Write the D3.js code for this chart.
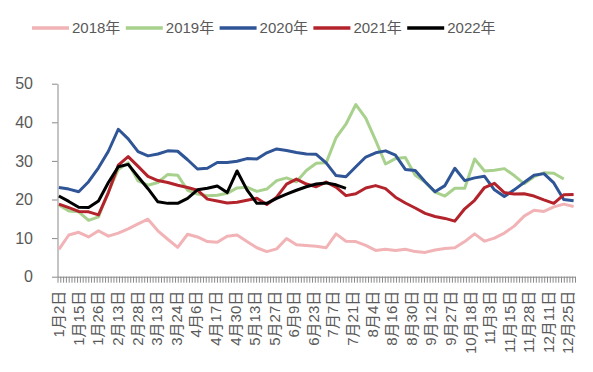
<!DOCTYPE html>
<html><head><meta charset="utf-8">
<script src="https://cdn.jsdelivr.net/npm/d3@7"></script>
<style>
body{margin:0;background:#fff}
svg{display:block}
text{font-family:"Liberation Sans","Noto Sans CJK SC",sans-serif;fill:#595959}
</style>
</head><body>
<svg id="c" width="593" height="372"></svg>
<script>
const seriesNames = ["2018年","2019年","2020年","2021年","2022年"];
const seriesColors = ["#F2B3B6","#A9D18E","#2F5597","#B3232B","#000000"];
const xTickLabels = ["1月2日","1月15日","1月26日","2月13日","2月28日","3月13日","3月24日","4月6日","4月17日","4月30日","5月13日","5月27日","6月9日","6月23日","7月7日","7月21日","8月4日","8月16日","8月30日","9月12日","9月27日","10月18日","11月3日","11月15日","11月28日","12月11日","12月25日"];
const yTicks = [0,10,20,30,40,50];
const categoryCount = 185;   // trading-day categories on the x axis
const labelEvery = 7;        // one label every 7 categories
const weekCount = 53;        // weekly observations across the year

const s2018 = [7.1,10.8,11.5,10.3,11.9,10.5,11.3,12.4,13.7,14.9,
               11.9,9.7,7.6,11.0,10.3,9.1,8.9,10.5,10.8,9.1,
               7.5,6.5,7.2,9.9,8.3,8.1,7.9,7.5,11.1,9.2,
               9.1,8.1,6.8,7.1,6.8,7.1,6.5,6.3,6.9,7.3,
               7.5,9.1,11.1,9.2,10.0,11.3,13.1,15.7,17.2,16.9,
               18.1,18.8,18.2];
const s2019 = [18.6,17.0,16.8,14.6,15.5,22.0,27.8,29.5,24.8,23.7,
               24.4,26.5,26.3,22.4,21.4,21.0,21.1,21.6,23.0,23.2,
               22.1,22.7,24.9,25.6,24.6,27.5,29.4,29.5,36.0,39.5,
               44.6,41.1,35.3,29.2,30.6,30.9,26.3,24.5,21.9,20.9,
               22.9,22.9,30.5,27.4,27.6,28.0,26.2,24.1,25.9,26.9,
               26.8,25.3];
const s2020 = [23.1,22.7,22.0,24.6,28.2,32.5,38.2,35.7,32.4,31.3,
               31.8,32.6,32.5,30.3,27.9,28.1,29.6,29.6,29.9,30.6,
               30.5,32.1,33.1,32.7,32.2,31.8,31.7,29.5,26.2,25.9,
               28.5,31.0,32.1,32.6,31.5,27.8,27.5,24.6,22.0,23.6,
               28.1,24.9,25.6,26.0,22.5,20.8,22.5,24.4,26.3,26.7,
               24.3,20.0,19.7];
const s2021 = [18.8,17.9,16.9,16.8,16.0,21.8,28.9,31.1,28.6,26.0,
               24.9,24.4,23.7,23.1,22.4,20.1,19.6,19.1,19.3,19.8,
               20.3,18.7,20.6,24.0,25.3,24.0,23.3,24.5,23.2,21.0,
               21.5,23.0,23.6,22.8,20.6,19.1,17.8,16.4,15.6,15.1,
               14.4,17.6,19.8,23.1,24.2,21.8,21.4,21.5,20.9,19.9,
               19.0,21.2,21.3];
const s2022 = [20.9,19.5,18.0,17.9,19.6,24.4,28.5,29.1,25.9,22.8,
               19.4,19.0,19.0,20.3,22.5,22.9,23.5,21.8,27.4,22.5,
               19.0,19.0,20.3,21.4,22.4,23.3,24.0,24.3,23.8,22.9];
const allSeries = [s2018,s2019,s2020,s2021,s2022];

const svg = d3.select("#c");
const plotLeft = 57.5, plotRight = 575, plotTop = 83.7, plotBottom = 276.7;

const xEdge = d3.scaleLinear().domain([0, categoryCount]).range([plotLeft, plotRight]);
const xCat = d3.scaleBand().domain(d3.range(categoryCount)).range([plotLeft, plotRight]).paddingInner(0);
const bw = xCat.bandwidth();
const xWeek = d3.scaleLinear().domain([0, weekCount - 1])
  .range([xCat(0) + bw / 2, xCat(categoryCount - 1) + bw / 2]);
const y = d3.scaleLinear().domain([0, 50]).range([plotBottom, plotTop]);

const axisColor = "#898989";

// Y axis
const gy = svg.append("g").attr("transform", `translate(${plotLeft},0)`)
  .call(d3.axisLeft(y).tickValues(yTicks).tickSizeInner(5.5).tickSizeOuter(0).tickPadding(19).tickFormat(d3.format("d")));
gy.select(".domain").attr("stroke", axisColor);
gy.selectAll(".tick line").attr("stroke", axisColor);
gy.selectAll(".tick text").attr("font-size", 16).attr("fill", "#595959")
  .style("font-family", '"Liberation Sans",sans-serif');

// X axis (category boundary ticks)
const gx = svg.append("g").attr("transform", `translate(0,${plotBottom})`)
  .call(d3.axisBottom(xEdge).tickValues(d3.range(categoryCount + 1)).tickSizeInner(6).tickSizeOuter(0).tickFormat(""));
gx.select(".domain").attr("stroke", axisColor);
gx.selectAll(".tick line").attr("stroke", axisColor);

// X labels
svg.append("g").selectAll("text").data(xTickLabels).join("text")
  .attr("transform", (d, i) => `translate(${xCat(i * labelEvery) + bw / 2},${plotBottom + 14}) rotate(-90)`)
  .attr("text-anchor", "end").attr("dy", "0.36em")
  .attr("font-size", 15).text(d => d);

// Lines
const line = d3.line().defined(d => d != null).x((d, i) => xWeek(i)).y(d => y(d));
svg.append("g").selectAll("path").data(allSeries).join("path")
  .attr("d", d => line(d))
  .attr("fill", "none")
  .attr("stroke", (d, i) => seriesColors[i])
  .attr("stroke-width", 3)
  .attr("stroke-linejoin", "round");

// Legend
const lg = svg.append("g").attr("transform", "translate(32,28)");
const item = lg.selectAll("g").data(seriesNames).join("g")
  .attr("transform", (d, i) => `translate(${i * 93.8},0)`);
item.append("line").attr("x1", 0).attr("x2", 37).attr("y1", 0).attr("y2", 0)
  .attr("stroke", (d, i) => seriesColors[i]).attr("stroke-width", 3.5);
item.append("text").attr("x", 40).attr("dy", "0.36em").attr("font-size", 15).text(d => d);
</script>
</body></html>
